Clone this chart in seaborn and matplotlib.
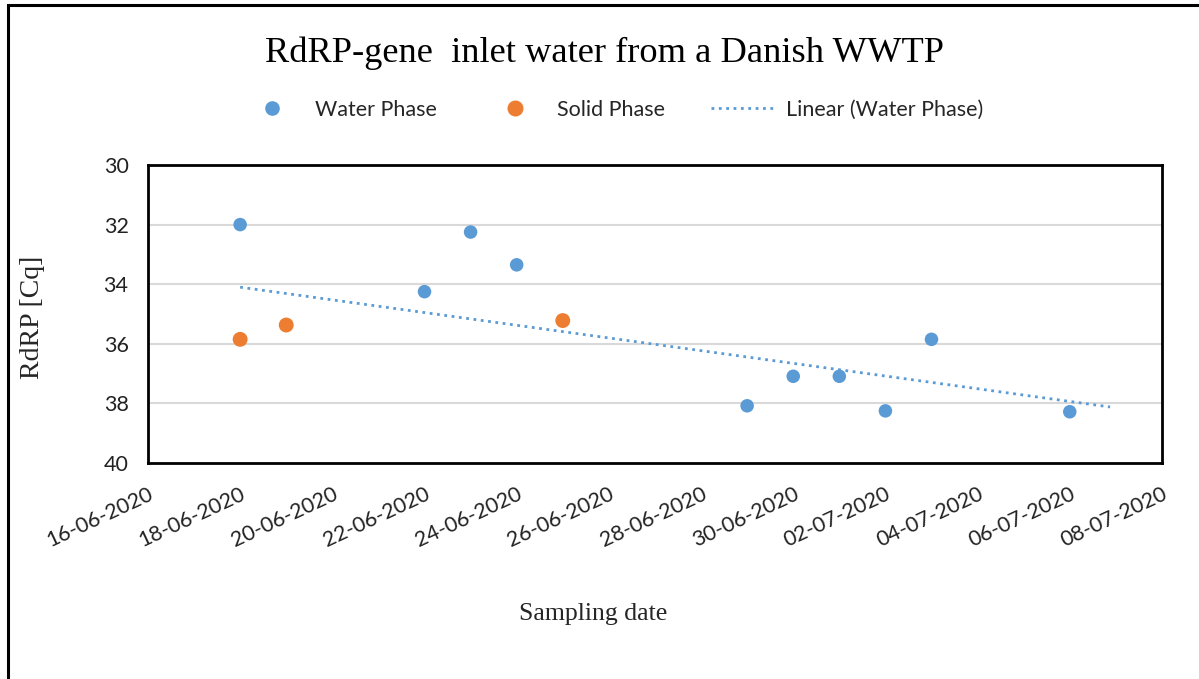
import pandas as pd
import numpy as np
import matplotlib
matplotlib.use("Agg")
import matplotlib.pyplot as plt
import matplotlib.dates as mdates
from matplotlib.lines import Line2D
from matplotlib.patches import Rectangle
import seaborn as sns

# data
water_dates = ["2020-06-18", "2020-06-22", "2020-06-23", "2020-06-24", "2020-06-29",
               "2020-06-30", "2020-07-01", "2020-07-02", "2020-07-03", "2020-07-06"]
water_cq = [32.0, 34.25, 32.25, 33.35, 38.08, 37.09, 37.09, 38.25, 35.85, 38.28]

solid_dates = ["2020-06-18", "2020-06-19", "2020-06-25"]
solid_cq = [35.85, 35.37, 35.22]

# trendline as drawn in the original (Excel linear trend, endpoints)
trend_dates = ["2020-06-18 00:00", "2020-07-06 21:00"]
trend_cq = [34.1, 38.12]

blue = "#5B9BD5"
orange = "#ED7D31"

water = pd.DataFrame({"date": pd.to_datetime(water_dates), "cq": water_cq})
solid = pd.DataFrame({"date": pd.to_datetime(solid_dates), "cq": solid_cq})
trend = pd.DataFrame({"date": pd.to_datetime(trend_dates, format="%Y-%m-%d %H:%M"),
                      "cq": trend_cq})

sns.set_style("white")
plt.rcParams["font.family"] = ["Lato", "DejaVu Sans"]

fig = plt.figure(figsize=(11.99, 6.79), dpi=100)
ax = fig.add_axes([0.1234, 0.3181, 0.9691 - 0.1234, 0.757 - 0.3181])

for y in [32, 34, 36, 38]:
    ax.axhline(y, color="#d9d9d9", lw=1.5, zorder=0)

sns.lineplot(data=trend, x="date", y="cq", ax=ax, color=blue, lw=2.0,
             linestyle=":", zorder=2)
sns.scatterplot(data=water, x="date", y="cq", ax=ax, color=blue, s=95,
                edgecolor="none", zorder=3)
sns.scatterplot(data=solid, x="date", y="cq", ax=ax, color=orange, s=115,
                edgecolor="none", zorder=4)

ax.set_ylim(40, 30)
ax.set_yticks([30, 32, 34, 36, 38, 40])
ax.set_xlim(pd.Timestamp("2020-06-16"), pd.Timestamp("2020-07-08"))
ticks = pd.date_range("2020-06-16", "2020-07-08", freq="2D")
ax.set_xticks(ticks)
ax.xaxis.set_major_formatter(mdates.DateFormatter("%d-%m-%Y"))
ax.tick_params(axis="both", length=0, labelsize=15.5, colors="#222222")
ax.tick_params(axis="y", pad=14)
ax.tick_params(axis="x", pad=15)
for lab in ax.get_xticklabels():
    lab.set_rotation(25)
    lab.set_ha("right")
    lab.set_rotation_mode("anchor")

for sp in ax.spines.values():
    sp.set_visible(True)
    sp.set_color("black")
    sp.set_linewidth(2)

ax.set_xlabel("")
ax.set_ylabel("")
serif = ["Liberation Serif", "DejaVu Serif"]
fig.text(0.027, 0.533, "RdRP [Cq]", rotation=90, ha="center", va="center",
         family=serif, fontsize=20)
fig.text(0.495, 0.095, "Sampling date", ha="center", va="center",
         family=serif, fontsize=18.5)
fig.text(0.504, 0.921, "RdRP-gene  inlet water from a Danish WWTP",
         ha="center", va="center", family=serif, fontsize=26.2, color="black")

handles = [
    Line2D([], [], ls="none", marker="o", color=blue, markersize=9.5),
    Line2D([], [], ls="none", marker="o", color=orange, markersize=10.5),
    Line2D([], [], ls=":", color=blue, lw=2.0),
]
fig.legend(handles, ["Water Phase", "Solid Phase", "Linear (Water Phase)"],
           loc="center", bbox_to_anchor=(0.51, 0.838), ncol=3, frameon=False,
           fontsize=15.5, handlelength=3, handletextpad=0.47, columnspacing=2.14)

fig.patches.append(Rectangle((8 / 1199, -0.05), 1.2, 1 - 5 / 679 + 0.05,
                             transform=fig.transFigure, fill=False,
                             edgecolor="black", lw=2.2))

fig.savefig("out.png", dpi=100)
